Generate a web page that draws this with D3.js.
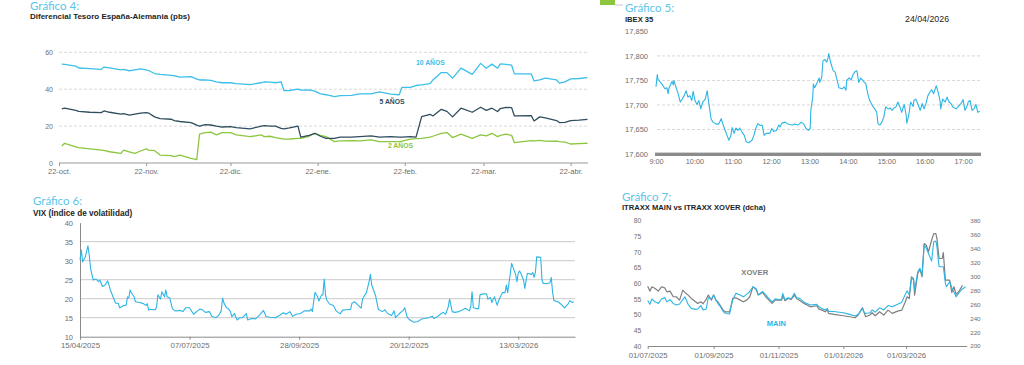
<!DOCTYPE html>
<html><head><meta charset="utf-8">
<script src="https://cdn.jsdelivr.net/npm/d3@7"></script>
<style>body{margin:0;background:#fff}svg{display:block}</style>
</head><body>
<svg id="c" width="1024" height="365"></svg>
<script>
// ---------- Gráfico 4: Diferencial Tesoro España-Alemania ----------
const spreadDates = ["2025-10-23","2025-10-24","2025-10-28","2025-10-29","2025-11-02","2025-11-06","2025-11-07","2025-11-09","2025-11-13","2025-11-14","2025-11-16","2025-11-18","2025-11-20","2025-11-22","2025-11-23","2025-11-25","2025-11-27","2025-12-01","2025-12-02","2025-12-04","2025-12-08","2025-12-10","2025-12-11","2025-12-13","2025-12-15","2025-12-17","2025-12-19","2025-12-22","2025-12-24","2025-12-29","2026-01-02","2026-01-03","2026-01-05","2026-01-07","2026-01-09","2026-01-10","2026-01-12","2026-01-15","2026-01-16","2026-01-19","2026-01-21","2026-01-23","2026-01-25","2026-01-28","2026-01-30","2026-02-03","2026-02-06","2026-02-10","2026-02-13","2026-02-17","2026-02-20","2026-02-21","2026-02-24","2026-02-26","2026-02-28","2026-03-03","2026-03-04","2026-03-07","2026-03-09","2026-03-11","2026-03-14","2026-03-18","2026-03-21","2026-03-23","2026-03-25","2026-03-27","2026-03-28","2026-03-30","2026-04-01","2026-04-02","2026-04-08","2026-04-09","2026-04-11","2026-04-13","2026-04-17","2026-04-18","2026-04-20","2026-04-22","2026-04-25","2026-04-28"];
const spread10 = [53.6,53.4,52.5,51.5,51.2,50.8,52.0,51.5,50.5,50.8, 50.0,50.5,51.0,50.5,50.0,48.5,48.0,47.5,47.3,46.5, 46.8,45.5,45.0,45.0,44.8,44.0,43.5,43.5,43.0,42.5, 43.5,44.0,43.8,43.5,44.0,39.2,39.3,40.0,39.5,39.6, 39.0,37.5,37.0,36.0,36.5,36.7,37.5,37.5,38.5,37.3, 37.0,41.0,41.0,42.0,42.3,43.0,45.0,49.0,49.0,46.0, 51.4,48.0,54.0,51.4,53.6,51.4,53.7,53.5,53.0,48.3, 48.3,44.5,45.0,46.0,45.0,43.3,44.0,45.6,45.8,46.3];
const spread5 = [29.3,29.7,28.5,28.0,27.5,27.3,28.2,27.5,26.5,26.8, 26.0,26.5,27.0,27.3,27.0,25.0,24.0,23.7,23.0,22.5, 21.9,20.5,20.0,20.8,20.6,20.0,19.5,19.7,19.2,18.5, 20.0,20.3,20.0,20.0,18.8,18.5,19.0,20.0,14.0,15.0, 16.1,14.5,13.4,13.4,14.0,14.0,14.3,14.7,14.0,14.3, 14.0,14.0,14.3,14.0,25.1,26.4,25.5,29.1,28.0,25.0, 29.7,27.5,30.2,28.5,29.7,27.9,29.5,30.2,30.0,25.5, 25.7,22.8,25.0,24.5,23.0,21.9,22.0,23.0,23.2,23.7];
const spread2 = [9.2,10.7,8.8,8.3,7.6,7.0,6.8,6.1,5.2,7.0, 6.0,5.2,6.5,7.6,7.0,6.7,4.3,4.0,3.4,4.3, 2.5,1.8,15.7,16.5,16.7,15.2,16.5,16.5,15.2,14.3, 15.2,14.3,14.5,13.8,13.2,12.9,13.0,13.4,13.4,14.5, 16.1,15.0,14.3,11.6,12.0,12.1,12.0,12.5,11.6,11.6, 11.6,11.8,12.9,13.2,13.4,14.0,14.5,16.1,16.5,13.8, 15.6,13.4,15.2,14.7,16.1,14.3,15.0,15.6,15.0,11.0, 12.1,12.0,12.3,11.9,11.8,11.6,11.3,10.3,10.5,10.7];
const spreadTickDates = ["2025-10-22","2025-11-22","2025-12-22","2026-01-22","2026-02-22","2026-03-22","2026-04-22"];
const spreadTickLabels = ["22-oct.","22-nov.","22-dic.","22-ene.","22-feb.","22-mar.","22-abr."];
const spreadYTicks = [0,20,40,60];

// ---------- Gráfico 5: IBEX 35 intradía ----------
const ibexTimes = ["09:00","09:02","09:03","09:09","09:14","09:17","09:19","09:20","09:25","09:27","09:28","09:31","09:34","09:38","09:41","09:44","09:47","09:50","09:53","09:56","09:58","10:01","10:04","10:07","10:10","10:13","10:17","10:20","10:22","10:26","10:29","10:34","10:38","10:42","10:45","10:51","10:54","10:57","10:59","11:02","11:05","11:08","11:11","11:14","11:18","11:21","11:25","11:30","11:33","11:36","11:39","11:43","11:46","11:49","11:52","11:55","11:58","12:01","12:04","12:08","12:12",
"12:14","12:17","12:22","12:26","12:33","12:37","12:42","12:47","12:51","12:54","12:58","13:01","13:02","13:05","13:06","13:08","13:12","13:15","13:16","13:19","13:21","13:24","13:27","13:29","13:30","13:33","13:37","13:40","13:43","13:46","13:51","13:54","13:57","13:58","14:02","14:05","14:08","14:11","14:14","14:17","14:20","14:23","14:28","14:31","14:34","14:39","14:42","14:45","14:47","14:50","14:53","14:56","14:59","15:03","15:06","15:09","15:12","15:15","15:18","15:21","15:24","15:28","15:31","15:32","15:35","15:38","15:42","15:43","15:46","15:49","15:53","15:56","15:59","16:02","16:05","16:08","16:11","16:14","16:18","16:21","16:24","16:25","16:28","16:32","16:35","16:38","16:41","16:44","16:49","16:52","16:57","17:00","17:03","17:06","17:08","17:11","17:14","17:17","17:20","17:23","17:26"];
const ibexValues = [17737,17762,17753,17743,17733,17735,17723,17733,17748,17741,17750,17737,17726,17706,17712,17719,17729,17716,17719,17709,17728,17709,17701,17709,17692,17706,17712,17729,17709,17672,17665,17661,17661,17672,17659,17638,17628,17638,17654,17642,17653,17648,17653,17646,17638,17625,17623,17628,17638,17652,17662,17658,17659,17638,17642,17642,17642,17652,17646,17648,17659,
17655,17663,17665,17661,17659,17661,17659,17665,17661,17653, 17648,17652,17689,17716,17743,17735,17746,17755,17746,17756, 17790,17793,17787,17797,17805,17786,17770,17767,17751,17735, 17733,17737,17730,17750,17755,17751,17762,17768,17770,17746, 17755,17750,17743,17723,17709,17697,17692,17685,17662,17659, 17665,17675,17696,17692,17694,17689,17694,17696,17706,17697, 17685,17701,17679,17663,17679,17706,17697,17709,17712,17703, 17689,17703,17692,17703,17719,17726,17731,17723,17739,17726, 17709,17692,17712,17706,17716,17706,17703,17696,17692,17696, 17703,17711,17689,17697,17706,17709,17689,17692,17701,17685,17687];
const ibexTickTimes = ["09:00","10:00","11:00","12:00","13:00","14:00","15:00","16:00","17:00"];
const ibexYTicks = [17600,17650,17700,17750,17800,17850];

// ---------- Gráfico 6: VIX ----------
const vixDates = ["2025-04-15","2025-04-16","2025-04-17","2025-04-19","2025-04-21","2025-04-22","2025-04-23","2025-04-25","2025-04-27","2025-04-29","2025-04-30",
"2025-05-02","2025-05-04","2025-05-06","2025-05-08","2025-05-10","2025-05-12","2025-05-14","2025-05-15","2025-05-18","2025-05-20","2025-05-21","2025-05-22","2025-05-23","2025-05-24","2025-05-26","2025-05-27","2025-05-30",
"2025-06-02","2025-06-04","2025-06-05","2025-06-06","2025-06-07","2025-06-11","2025-06-12","2025-06-13","2025-06-15","2025-06-16","2025-06-18","2025-06-19","2025-06-20","2025-06-22","2025-06-24","2025-06-26","2025-06-30",
"2025-07-02","2025-07-04","2025-07-07","2025-07-10","2025-07-13","2025-07-15","2025-07-17","2025-07-19","2025-07-22","2025-07-24","2025-07-27","2025-07-29","2025-07-31",
"2025-08-01","2025-08-02","2025-08-04","2025-08-05","2025-08-07","2025-08-08","2025-08-10","2025-08-12","2025-08-14","2025-08-16","2025-08-19","2025-08-20","2025-08-23","2025-08-26","2025-08-29",
"2025-09-01","2025-09-03","2025-09-06","2025-09-10","2025-09-13","2025-09-16","2025-09-18","2025-09-21","2025-09-23","2025-09-26","2025-09-29",
"2025-10-02","2025-10-06","2025-10-07","2025-10-08","2025-10-10","2025-10-12","2025-10-13","2025-10-15","2025-10-16","2025-10-17","2025-10-18","2025-10-19","2025-10-21","2025-10-24","2025-10-26","2025-10-29","2025-10-31",
"2025-11-03","2025-11-06","2025-11-07","2025-11-09","2025-11-12","2025-11-14","2025-11-15","2025-11-18","2025-11-20","2025-11-21","2025-11-22","2025-11-25","2025-11-27","2025-11-30",
"2025-12-02","2025-12-04","2025-12-07","2025-12-09","2025-12-10","2025-12-13","2025-12-16","2025-12-17","2025-12-19","2025-12-21","2025-12-24","2025-12-27","2025-12-30",
"2026-01-01","2026-01-04","2026-01-07","2026-01-08","2026-01-10","2026-01-13","2026-01-15","2026-01-17","2026-01-19","2026-01-20","2026-01-22","2026-01-24","2026-01-27","2026-01-30",
"2026-02-01","2026-02-04","2026-02-05","2026-02-06","2026-02-07","2026-02-09","2026-02-11","2026-02-12","2026-02-14","2026-02-17","2026-02-18","2026-02-20","2026-02-21","2026-02-23","2026-02-25","2026-02-27",
"2026-03-01","2026-03-03","2026-03-04","2026-03-05","2026-03-07","2026-03-08","2026-03-11","2026-03-12","2026-03-13","2026-03-14","2026-03-15","2026-03-17","2026-03-18","2026-03-19","2026-03-20","2026-03-23","2026-03-24","2026-03-25","2026-03-26","2026-03-27","2026-03-30","2026-03-31",
"2026-04-01","2026-04-04","2026-04-06","2026-04-07","2026-04-08","2026-04-09","2026-04-12","2026-04-15","2026-04-17","2026-04-20","2026-04-21","2026-04-23","2026-04-24"];
const vixValues = [30.2,32.8,29.7,31.0,33.9,31.5,28.0,24.9,25.2,24.5,24.9,
23.2,23.6,24.7,22.3,20.5,18.8,18.8,17.6,18.2,18.3,20.5,20.2,22.3,21.5,20.5,19.2,19.0,
18.7,18.2,18.7,17.0,17.2,17.1,17.8,21.0,19.9,21.8,20.5,22.3,20.5,20.2,17.4,16.8,16.9,
16.6,17.6,17.6,15.9,16.8,17.3,17.0,16.4,16.6,15.3,15.0,15.6,16.8,
20.2,18.9,17.6,17.5,16.6,15.3,16.1,14.4,15.0,15.0,16.1,14.4,14.8,14.7,15.7,
16.9,15.3,15.1,15.0,15.6,16.3,15.9,16.6,15.4,15.9,16.1,
16.8,16.8,17.3,16.6,21.7,20.5,19.4,21.0,21.0,25.2,21.0,19.6,18.6,18.2,16.8,16.0,17.0,
17.1,17.2,18.8,19.2,18.2,17.5,19.9,21.6,24.5,26.4,23.6,20.7,17.2,16.6,
17.1,16.1,15.6,16.8,15.0,16.1,17.0,17.6,15.0,14.4,13.8,14.0,14.7,
14.8,15.0,15.4,14.8,15.1,15.9,16.4,15.9,17.9,19.9,16.6,16.4,16.6,17.1,
17.5,16.8,17.9,21.8,17.6,17.4,17.4,21.0,21.2,21.3,19.9,20.3,19.0,20.5,18.3,20.2,
21.6,21.6,23.6,21.6,26.7,29.3,26.4,24.5,26.7,27.3,26.7,24.9,22.7,24.9,26.7,26.4,26.9,25.6,26.9,31.0,30.9,24.9,
24.0,24.0,24.2,25.6,21.8,19.5,19.2,18.4,17.6,18.7,19.5,19.0,19.2];
const vixTickDates = ["2025-04-15","2025-07-07","2025-09-28","2025-12-20","2026-03-13"];
const vixYTicks = [10,15,20,25,30,35,40];

// ---------- Gráfico 7: iTraxx Main vs iTraxx Crossover ----------
const itraxxDates = ["2025-07-01","2025-07-03","2025-07-05","2025-07-08","2025-07-11","2025-07-14","2025-07-17","2025-07-19","2025-07-22","2025-07-25","2025-07-28","2025-07-31",
"2025-08-03","2025-08-05","2025-08-08","2025-08-11","2025-08-15","2025-08-17","2025-08-20","2025-08-22","2025-08-25","2025-08-27","2025-08-30",
"2025-09-01","2025-09-03","2025-09-05","2025-09-08","2025-09-10","2025-09-12","2025-09-16","2025-09-17","2025-09-19","2025-09-22","2025-09-26","2025-09-29",
"2025-10-02","2025-10-05","2025-10-08","2025-10-11","2025-10-13","2025-10-17","2025-10-20","2025-10-23","2025-10-26","2025-10-29",
"2025-11-01","2025-11-04","2025-11-05","2025-11-07","2025-11-10","2025-11-13","2025-11-16","2025-11-18","2025-11-21","2025-11-25",
"2025-12-01","2025-12-07","2025-12-09","2025-12-12","2025-12-15","2025-12-17","2025-12-18","2025-12-23",
"2026-01-01","2026-01-07","2026-01-12","2026-01-15","2026-01-19","2026-01-20","2026-01-22","2026-01-26","2026-01-28","2026-01-31",
"2026-02-04","2026-02-08","2026-02-12","2026-02-16","2026-02-21","2026-02-25","2026-02-28",
"2026-03-02","2026-03-04","2026-03-06","2026-03-08","2026-03-09","2026-03-12","2026-03-14","2026-03-16","2026-03-18","2026-03-20","2026-03-22","2026-03-25","2026-03-27","2026-03-29","2026-03-30",
"2026-04-01","2026-04-04","2026-04-05","2026-04-07","2026-04-08","2026-04-11","2026-04-13","2026-04-15","2026-04-17","2026-04-20","2026-04-23","2026-04-26"];
const itraxxMain = [54.5,53.3,55.0,54.1,53.6,55.0,55.5,54.1,54.8,53.6,53.1,53.4,
54.8,55.7,53.3,52.0,51.7,51.8,52.9,51.5,51.8,55.4,55.1,
56.3,54.8,53.6,52.2,51.0,50.4,50.2,52.0,54.8,56.8,56.3,55.7,
56.5,57.4,58.9,58.3,56.3,57.4,56.3,55.1,54.1,55.1,
54.8,55.0,56.8,54.8,55.4,55.1,56.8,55.4,55.2,54.0,
53.1,53.3,52.5,52.0,51.5,52.0,51.0,51.0,
50.6,50.1,49.6,50.1,52.0,51.0,50.4,50.6,51.5,50.8,
52.2,51.5,52.9,52.5,53.3,54.0,56.3,
57.6,56.3,61.6,61.1,57.9,63.7,64.8,62.7,72.2,71.2,69.6,67.1,73.3,73.5,71.7,
65.3,65.3,65.3,60.0,58.9,60.5,58.6,57.2,55.7,57.1,58.2,58.9];
const itraxxXover = [285.7,278.6,284.8,282.4,278.6,284.8,283.3,277.6,278.6,270.5,270.5,265.7,
280,276.7,272.9,268.1,263.3,261,263.3,260.5,266.7,272.9,265.7,
272.9,265.7,263.3,256.2,251.4,249,249,254.8,268.1,269,265.7,263.3,
265.7,270.5,284.8,281,272.9,276.7,270.5,265.7,261,265.7,
265.7,265.7,272.9,264.8,268.1,266.7,272.9,268.1,265.2,261,
256.1,257.6,252.9,251.4,249,252.4,246.7,245.2,
243.3,241.9,240.5,244.3,254.8,250,241.9,244.3,247.6,243.3,
249,244.3,251.4,246.7,250,251.4,262.4,
270.5,268.1,299,296.7,272.9,303.9,310,299,346.7,344.3,334.7,351.4,361,361,353.9,
325.3,325.3,333.9,294.3,294.3,294.3,276.7,284.8,273.9,279,287.1,null];
const itraxxTickDates = ["2025-07-01","2025-09-01","2025-11-01","2026-01-01","2026-03-01"];
const itraxxLeftTicks = [40,45,50,55,60,65,70,75,80];
const itraxxRightTicks = [200,220,240,260,280,300,320,340,360,380];

// ---------- drawing ----------
const FONT = "'Liberation Sans', Arial, sans-serif";
const TFONT = "Lato, 'Open Sans', sans-serif";
const CYAN = "#2db5e5", TITLE = "#5cc4ea", DARK = "#2f4d5e", GREEN = "#8cc63f", GREY = "#7f7f7f";
const pDay = d3.timeParse("%Y-%m-%d"), pTime = d3.timeParse("%H:%M");
const svg = d3.select("#c");
svg.append("rect").attr("width",1024).attr("height",365).attr("fill","#fff");

function txt(x, y, s, size, color, weight, font, anchor) {
  return svg.append("text").attr("x",x).attr("y",y).text(s)
    .attr("font-size",size).attr("fill",color).attr("font-weight",weight||"normal")
    .attr("font-family",font||FONT).attr("text-anchor",anchor||"start");
}
function style(g, stroke, size, fill) {
  g.attr("font-family",FONT).attr("font-size",size);
  g.select(".domain").attr("stroke",stroke);
  g.selectAll(".tick line").attr("stroke",stroke);
  g.selectAll(".tick text").attr("fill",fill||"#6e6e6e");
}

// Gráfico 4
txt(30, 9.5, "Gráfico 4:", 11.5, TITLE, "normal", TFONT);
txt(30, 18.5, "Diferencial Tesoro España-Alemania (pbs)", 8, "#1e1e1e", "bold");
const x4 = d3.scaleTime().domain([pDay("2025-10-22"), pDay("2026-04-28")]).range([59, 587.5]);
const y4 = d3.scaleLinear().domain([0,60]).range([163, 52.3]);
svg.append("g").selectAll("line").data(spreadYTicks.filter(v=>v>0)).join("line")
  .attr("x1",59).attr("x2",588).attr("y1",d=>y4(d)).attr("y2",d=>y4(d))
  .attr("stroke","#cfcfcf").attr("stroke-width",0.8).attr("stroke-dasharray","3,2");
const gx4 = svg.append("g").attr("transform","translate(0,163)")
  .call(d3.axisBottom(x4).tickValues(spreadTickDates.map(pDay)).tickFormat((d,i)=>spreadTickLabels[i]).tickSize(3).tickSizeOuter(0).tickPadding(3));
gx4.select(".domain").attr("d","M59,0H588");
style(gx4, "#9a9a9a", 7.5);
const gy4 = svg.append("g").attr("transform","translate(59,0)")
  .call(d3.axisLeft(y4).tickValues(spreadYTicks).tickSize(0).tickPadding(6));
gy4.select(".domain").remove();
style(gy4, "#9a9a9a", 7);
const line4 = vals => d3.line().x((d,i)=>x4(pDay(spreadDates[i]))).y(d=>y4(d))(vals);
[[spread2,GREEN],[spread5,DARK],[spread10,"#3cbfe9"]].forEach(([v,c])=>{
  svg.append("path").attr("d",line4(v)).attr("fill","none").attr("stroke",c).attr("stroke-width",1.3).attr("stroke-linejoin","round");
});
txt(x4(pDay("2026-02-26")), y4(53.2), "10 AÑOS", 6.8, "#3cbfe9", "bold");
txt(x4(pDay("2026-02-13")), y4(32), "5 AÑOS", 6.8, DARK, "bold");
txt(x4(pDay("2026-02-16")), y4(8.1), "2 AÑOS", 6.8, GREEN, "bold");

// Gráfico 5
svg.append("rect").attr("x",600).attr("y",0).attr("width",15).attr("height",5).attr("fill",GREEN);
svg.append("line").attr("x1",615).attr("x2",623).attr("y1",5).attr("y2",5).attr("stroke","#bdbdbd").attr("stroke-width",0.8);
txt(625, 11.5, "Gráfico 5:", 11.5, TITLE, "normal", TFONT);
txt(625, 22, "IBEX 35", 7.6, "#1e1e1e", "bold");
txt(905, 22, "24/04/2026", 8.8, "#1e1e1e");
const x5 = d3.scaleTime().domain([pTime("09:00"), pTime("17:28")]).range([656, 981]);
const y5 = d3.scaleLinear().domain([17600,17850]).range([154, 31.4]);
svg.append("g").selectAll("line").data(ibexYTicks.filter(v=>v>17600 && v<17850)).join("line")
  .attr("x1",657).attr("x2",980).attr("y1",d=>y5(d)).attr("y2",d=>y5(d))
  .attr("stroke","#cdcdcd").attr("stroke-width",0.8).attr("stroke-dasharray","3,2");
const gy5 = svg.append("g").attr("transform","translate(656,0)")
  .call(d3.axisLeft(y5).tickValues(ibexYTicks).tickSize(0).tickPadding(8).tickFormat(d3.format(",")));
gy5.select(".domain").remove();
style(gy5, "#999", 7.5);
svg.append("path").attr("fill","none").attr("stroke",CYAN).attr("stroke-width",1.1).attr("stroke-linejoin","round")
  .attr("d", d3.line().x((d,i)=>x5(pTime(ibexTimes[i]))).y(d=>y5(d))(ibexValues));
svg.append("rect").attr("x",x5.range()[0]-1).attr("y",152.6).attr("width",x5.range()[1]-x5.range()[0]+1).attr("height",3.4).attr("fill","#8c8c8c");
const gx5 = svg.append("g").attr("transform","translate(0,156)")
  .call(d3.axisBottom(x5).tickValues(ibexTickTimes.map(pTime)).tickFormat(d3.timeFormat("%-H:%M")).tickSize(0).tickPadding(3));
gx5.select(".domain").remove();
style(gx5, "#999", 7.3);

// Gráfico 6
txt(33, 205, "Gráfico 6:", 11.5, TITLE, "normal", TFONT);
txt(33, 215.5, "VIX (Índice de volatilidad)", 8.2, "#1e1e1e", "bold");
const x6 = d3.scaleTime().domain([pDay("2025-04-15"), pDay("2026-04-25")]).range([80, 575]);
const y6 = d3.scaleLinear().domain([10,40]).range([336.7, 222.7]);
svg.append("g").selectAll("line").data(vixYTicks.filter(v=>v>10 && v<40)).join("line")
  .attr("x1",80).attr("x2",575).attr("y1",d=>y6(d)).attr("y2",d=>y6(d))
  .attr("stroke","#c4c4c4").attr("stroke-width",0.9);
const gy6 = svg.append("g").attr("transform","translate(80,0)")
  .call(d3.axisLeft(y6).tickValues(vixYTicks).tickSize(0).tickPadding(7));
style(gy6, "#8a8a8a", 7.5);
const gx6 = svg.append("g").attr("transform","translate(0,336.7)")
  .call(d3.axisBottom(x6).tickValues(vixTickDates.map(pDay)).tickFormat(d3.timeFormat("%d/%m/%Y")).tickSize(3).tickSizeOuter(0).tickPadding(2.5));
style(gx6, "#8a8a8a", 7.8);
svg.append("path").attr("fill","none").attr("stroke",CYAN).attr("stroke-width",1.1).attr("stroke-linejoin","round")
  .attr("d", d3.line().x((d,i)=>x6(pDay(vixDates[i]))).y(d=>y6(d))(vixValues));

// Gráfico 7
txt(622, 200.5, "Gráfico 7:", 11.5, TITLE, "normal", TFONT);
txt(622, 210, "ITRAXX MAIN vs ITRAXX XOVER (dcha)", 7.6, "#1e1e1e", "bold");
const x7 = d3.scaleTime().domain([pDay("2025-07-01"), pDay("2026-04-27")]).range([647.7, 966.7]);
const y7 = d3.scaleLinear().domain([40,80]).range([346, 220.7]);
const y7r = d3.scaleLinear().domain([200,380]).range([346, 220.3]);
const gy7 = svg.append("g").attr("transform","translate(647.7,0)")
  .call(d3.axisLeft(y7).tickValues(itraxxLeftTicks).tickSize(0).tickPadding(6.5));
gy7.select(".domain").remove();
style(gy7, "#999", 6.8);
const gy7r = svg.append("g").attr("transform","translate(966.7,0)")
  .call(d3.axisRight(y7r).tickValues(itraxxRightTicks).tickSize(0).tickPadding(3.5));
gy7r.select(".domain").remove();
style(gy7r, "#999", 6.2);
const gx7 = svg.append("g").attr("transform","translate(0,346)")
  .call(d3.axisBottom(x7).tickValues(itraxxTickDates.map(pDay)).tickFormat(d3.timeFormat("%d/%m/%Y")).tickSize(3).tickSizeOuter(0).tickPadding(3));
style(gx7, "#8a8a8a", 7.8);
svg.append("path").attr("fill","none").attr("stroke",GREY).attr("stroke-width",1.2).attr("stroke-linejoin","round")
  .attr("d", d3.line().defined(d=>d!==null).x((d,i)=>x7(pDay(itraxxDates[i]))).y(d=>y7r(d))(itraxxXover));
svg.append("path").attr("fill","none").attr("stroke",CYAN).attr("stroke-width",1.1).attr("stroke-linejoin","round")
  .attr("d", d3.line().x((d,i)=>x7(pDay(itraxxDates[i]))).y(d=>y7(d))(itraxxMain));
txt(x7(pDay("2025-09-27")), y7(62.8), "XOVER", 7.7, GREY, "bold");
txt(x7(pDay("2025-10-21")), y7(46.4), "MAIN", 7.5, CYAN, "bold");
</script>
</body></html>
